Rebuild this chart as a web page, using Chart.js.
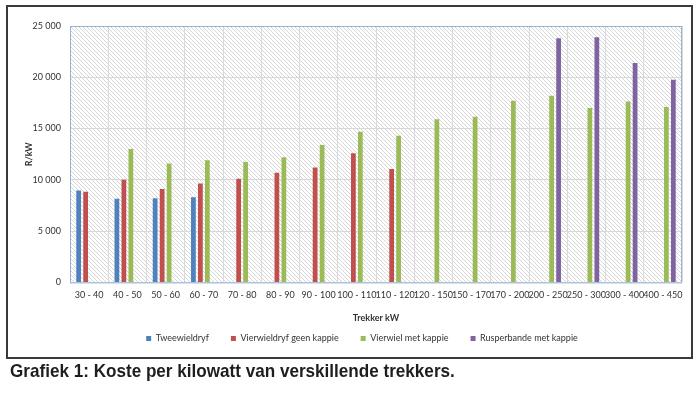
<!DOCTYPE html>
<html lang="af">
<head>
    <meta charset="UTF-8">
    <title>Koste per kilowatt</title>
    <script src="https://cdn.jsdelivr.net/npm/chart.js"></script>
    <style>
        body {
            margin: 0;
            padding: 0;
            background: #ffffff;
            width: 700px;
            height: 398px;
            overflow: hidden;
            position: relative;
        }

        .frame {
            position: absolute;
            left: 6px;
            top: 5px;
            width: 683px;
            height: 350px;
            border: 2px solid #3a3a3a;
        }

        .chart-box {
            position: absolute;
            left: 0;
            top: 0;
            width: 700px;
            height: 398px;
        }

        .caption {
            position: absolute;
            left: 10px;
            top: 361px;
            line-height: 20px;
            font-family: "Liberation Sans", Arial, sans-serif;
            font-weight: bold;
            font-size: 19px;
            color: #1e1e1e;
            white-space: nowrap;
            transform: scaleX(0.9);
            transform-origin: left top;
        }
    </style>
</head>
<body>
    <div class="frame"></div>
    <div class="chart-box">
        <canvas id="costChart" width="700" height="398"></canvas>
    </div>
    <div class="caption">Grafiek 1: Koste per kilowatt van verskillende trekkers.</div>

    <script>
        // Trekker kW klasse
        const categories = ["30 - 40", "40 - 50", "50 - 60", "60 - 70", "70 - 80", "80 - 90", "90 - 100",
            "100 - 110", "110 - 120", "120 - 150", "150 - 170", "170 - 200", "200 - 250",
            "250 - 300", "300 - 400", "400 - 450"];

        // R/kW per reeks (null = geen staaf)
        const tweewieldryf = [8950, 8150, 8200, 8300, null, null, null, null, null, null, null, null, null, null, null, null];
        const vierwielGeenKappie = [8850, 10000, 9100, 9650, 10100, 10700, 11200, 12600, 11050, null, null, null, null, null, null, null];
        const vierwielMetKappie = [null, 13000, 11600, 11900, 11750, 12200, 13400, 14700, 14300, 15900, 16150, 17700, 18200, 17000, 17650, 17100];
        const rusperbande = [null, null, null, null, null, null, null, null, null, null, null, null, 23800, 23900, 21400, 19750];

        const seriesNames = ["Tweewieldryf", "Vierwieldryf geen kappie", "Vierwiel met kappie", "Rusperbande met kappie"];
        const yTicks = [0, 5000, 10000, 15000, 20000, 25000];

        const colours = ["#4f81bd", "#c0504d", "#9bbb59", "#8064a2"];
        const tickFont = { family: "Lato, 'Open Sans', sans-serif", size: 9 };
        const titleFont = { family: tickFont.family, size: 9, weight: "bold" };

        function spaced(v) {
            return String(v).replace(/\B(?=(\d{3})+(?!\d))/g, " ");
        }

        // diagonal hatch like the Excel plot area
        function hatchPattern(ctx) {
            const tile = document.createElement("canvas");
            tile.width = 4;
            tile.height = 4;
            const t = tile.getContext("2d");
            t.fillStyle = "#ffffff";
            t.fillRect(0, 0, 4, 4);
            t.strokeStyle = "#d6d6d6";
            t.lineWidth = 1;
            t.beginPath();
            t.moveTo(-1, -1);
            t.lineTo(5, 5);
            t.moveTo(-1, 3);
            t.lineTo(1, 5);
            t.moveTo(3, -1);
            t.lineTo(5, 1);
            t.stroke();
            return ctx.createPattern(tile, "repeat");
        }

        const plotArea = {
            id: "plotArea",
            afterLayout(chart) {
                // legend sits closer under the axis title and a bit right, as in Excel
                const lg = chart.legend;
                lg.left += 9;
                lg.right += 9;
                lg.top -= 15;
                lg.bottom -= 15;
            },
            beforeDraw(chart) {
                const { ctx, chartArea: a } = chart;
                ctx.save();
                ctx.fillStyle = hatchPattern(ctx);
                ctx.fillRect(a.left, a.top, a.right - a.left, a.bottom - a.top);
                ctx.restore();
            },
            afterDatasetsDraw(chart) {
                const { ctx, chartArea: a } = chart;
                ctx.save();
                ctx.strokeStyle = "#95b3d7";
                ctx.lineWidth = 1;
                ctx.strokeRect(a.left + 0.5, a.top + 0.5, a.right - a.left - 1, a.bottom - a.top);
                ctx.restore();
            }
        };

        const seriesData = [tweewieldryf, vierwielGeenKappie, vierwielMetKappie, rusperbande];

        const ctx = document.getElementById("costChart").getContext("2d");
        const costChart = new Chart(ctx, {
            type: "bar",
            data: {
                labels: categories,
                datasets: seriesData.map((d, i) => ({
                    label: seriesNames[i],
                    data: d,
                    backgroundColor: colours[i],
                    borderWidth: 0,
                    categoryPercentage: 0.73,
                    barPercentage: 0.68
                }))
            },
            options: {
                responsive: false,
                animation: false,
                layout: {
                    padding: { left: 24, right: 18, top: 26, bottom: 30 }
                },
                plugins: {
                    tooltip: { enabled: false },
                    legend: {
                        position: "bottom",
                        labels: {
                            boxWidth: 5,
                            boxHeight: 5,
                            padding: 22,
                            color: "#333333",
                            font: tickFont
                        }
                    }
                },
                scales: {
                    x: {
                        grid: { color: "#d9d9d9", drawTicks: false, offset: true },
                        border: { display: false },
                        ticks: {
                            autoSkip: false,
                            maxRotation: 0,
                            minRotation: 0,
                            padding: 7,
                            color: "#333333",
                            font: tickFont
                        },
                        title: {
                            display: true,
                            text: "Trekker kW",
                            color: "#333333",
                            font: titleFont,
                            padding: { top: 5, bottom: 4 }
                        }
                    },
                    y: {
                        min: 0,
                        max: 25000,
                        afterBuildTicks(axis) {
                            axis.ticks = yTicks.map(v => ({ value: v }));
                        },
                        afterFit(axis) {
                            axis.width = 46;
                        },
                        grid: { color: "#d9d9d9", drawTicks: false },
                        border: { display: false },
                        ticks: {
                            padding: 9,
                            color: "#333333",
                            font: tickFont,
                            callback: v => spaced(v)
                        },
                        title: {
                            display: true,
                            text: "R/kW",
                            color: "#333333",
                            font: titleFont,
                            padding: { top: 0, bottom: 3 }
                        }
                    }
                }
            },
            plugins: [plotArea]
        });
    </script>
</body>
</html>
